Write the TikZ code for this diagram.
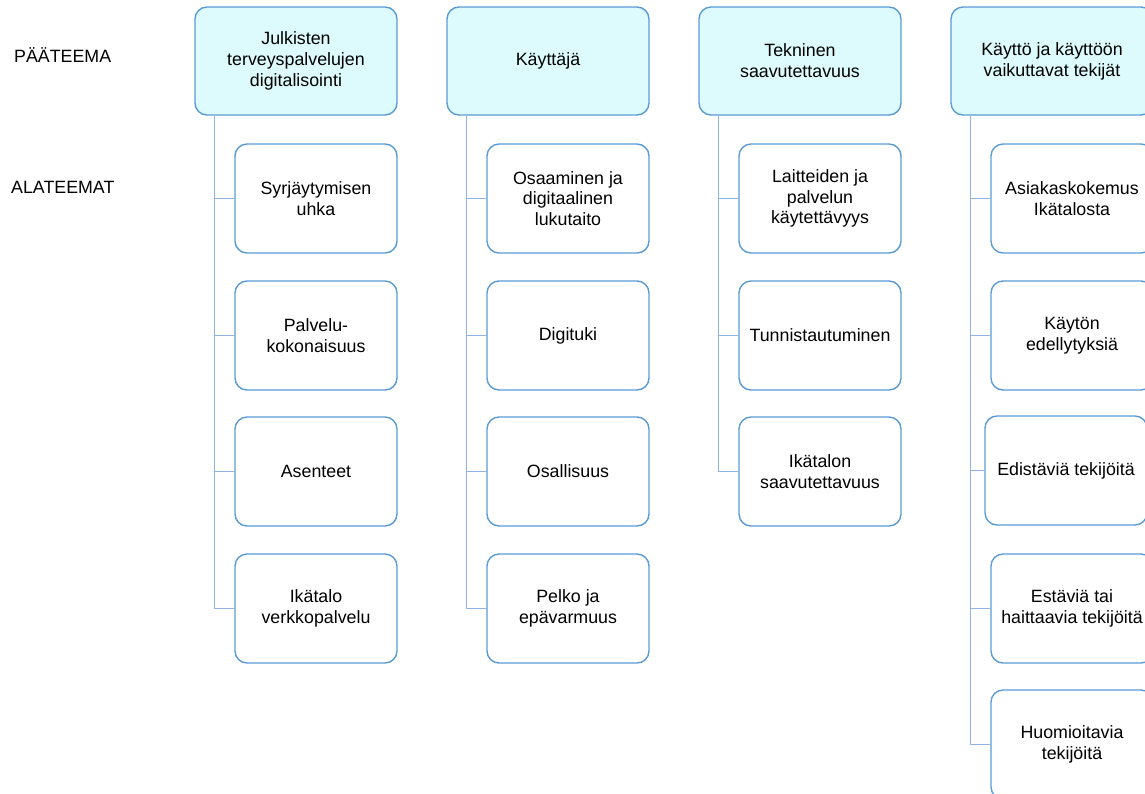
\documentclass[tikz,border=0pt]{standalone}
\usepackage{fontspec}
\setmainfont{Liberation Sans}
\usepackage{tikz}
\usetikzlibrary{shapes,calc}
\definecolor{headfill}{HTML}{DDFBFD}
\definecolor{boxblue}{HTML}{5B9BD5}
\definecolor{linkblue}{HTML}{8FB4E3}
\tikzstyle{theme} = [rectangle, draw=boxblue, line width=1.4pt, fill=headfill,
    minimum width=202pt, minimum height=108pt, rounded corners=12pt, align=center, inner sep=2pt]
\tikzstyle{subtheme} = [rectangle, draw=boxblue, line width=1.4pt, fill=white,
    minimum width=162pt, minimum height=109pt, rounded corners=12pt, align=center, inner sep=2pt]
\tikzstyle{label} = [anchor=west, inner sep=0pt]
\tikzstyle{line} = [draw=linkblue, line width=0.8pt]

\begin{document}
\begin{tikzpicture}[node distance=137pt, font=\fontsize{17.8}{20.8}\selectfont]
    \useasboundingbox (0,0) rectangle (1145pt,-793pt);
    % Place nodes
    \node [label] at (14pt,-55pt) (main) {PÄÄTEEMA};
    \node [label] at (11pt,-187pt) (sub) {ALATEEMAT};
    \node [theme] at (296pt,-61pt) (h1) {Julkisten\\terveyspalvelujen\\digitalisointi};
    \node [theme, right of=h1, node distance=252pt] (h2) {Käyttäjä};
    \node [theme, right of=h2, node distance=252pt] (h3) {Tekninen\\saavutettavuus};
    \node [theme, right of=h3, node distance=252pt] (h4) {Käyttö ja käyttöön\\vaikuttavat tekijät};
    % column 1
    \node [subtheme, below of=h1, node distance=137.5pt, xshift=20pt] (s11) {Syrjäytymisen\\uhka};
    \node [subtheme, below of=s11] (s12) {Palvelu-\\kokonaisuus};
    \node [subtheme, below of=s12, node distance=136pt] (s13) {Asenteet};
    \node [subtheme, below of=s13] (s14) {Ikätalo\\verkkopalvelu};
    % column 2
    \node [subtheme, below of=h2, node distance=137.5pt, xshift=20pt] (s21) {Osaaminen ja\\digitaalinen\\lukutaito};
    \node [subtheme, below of=s21] (s22) {Digituki};
    \node [subtheme, below of=s22, node distance=136pt] (s23) {Osallisuus};
    \node [subtheme, below of=s23] (s24) {Pelko ja\\epävarmuus};
    % column 3
    \node [subtheme, below of=h3, node distance=137.5pt, xshift=20pt] (s31) {Laitteiden ja\\palvelun\\käytettävyys};
    \node [subtheme, below of=s31] (s32) {Tunnistautuminen};
    \node [subtheme, below of=s32, node distance=136pt] (s33) {Ikätalon\\saavutettavuus};
    % column 4
    \node [subtheme, below of=h4, node distance=137.5pt, xshift=20pt] (s41) {Asiakaskokemus\\Ikätalosta};
    \node [subtheme, below of=s41] (s42) {Käytön\\edellytyksiä};
    \node [subtheme, below of=s42, node distance=135pt, xshift=-6pt] (s43) {Edistäviä tekijöitä};
    \node [subtheme, below of=s43, node distance=138pt, xshift=6pt] (s44) {Estäviä tai\\haittaavia tekijöitä};
    \node [subtheme, below of=s44, node distance=136pt] (s45) {Huomioitavia\\tekijöitä};
    % Draw edges
    \path [line] ([xshift=20pt] h1.south west) |- (s11.west);
    \path [line] ([xshift=20pt] h1.south west) |- (s12.west);
    \path [line] ([xshift=20pt] h1.south west) |- (s13.west);
    \path [line] ([xshift=20pt] h1.south west) |- (s14.west);
    \path [line] ([xshift=20pt] h2.south west) |- (s21.west);
    \path [line] ([xshift=20pt] h2.south west) |- (s22.west);
    \path [line] ([xshift=20pt] h2.south west) |- (s23.west);
    \path [line] ([xshift=20pt] h2.south west) |- (s24.west);
    \path [line] ([xshift=20pt] h3.south west) |- (s31.west);
    \path [line] ([xshift=20pt] h3.south west) |- (s32.west);
    \path [line] ([xshift=20pt] h3.south west) |- (s33.west);
    \path [line] ([xshift=20pt] h4.south west) |- (s41.west);
    \path [line] ([xshift=20pt] h4.south west) |- (s42.west);
    \path [line] ([xshift=20pt] h4.south west) |- (s43.west);
    \path [line] ([xshift=20pt] h4.south west) |- (s44.west);
    \path [line] ([xshift=20pt] h4.south west) |- (s45.west);
\end{tikzpicture}
\end{document}
